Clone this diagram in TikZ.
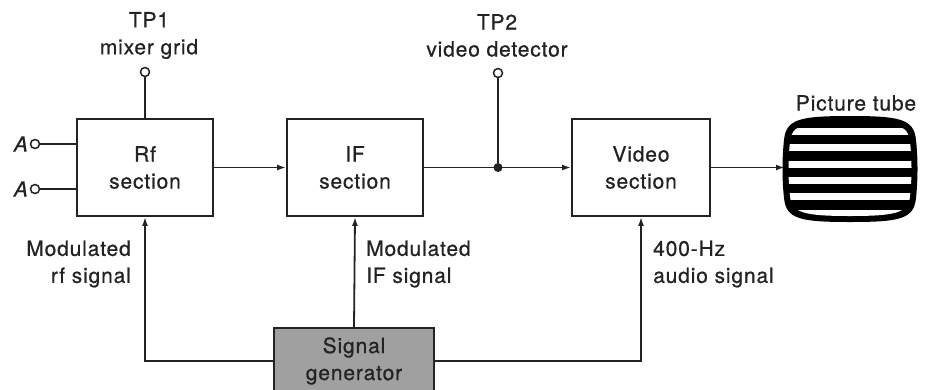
\documentclass[tikz,border=0pt]{standalone}
\usepackage{fontspec}
\setmainfont{TeX Gyre Heros}[LetterSpace=4,FakeBold=0.7]
\usetikzlibrary{arrows.meta}
\definecolor{ink}{RGB}{35,35,35}
\definecolor{gengray}{RGB}{160,160,160}
\begin{document}
\begin{tikzpicture}[x=1pt,y=-1pt,
  font=\fontsize{21}{27}\selectfont,
  every node/.style={text=ink},
  line/.style={draw=ink,line width=1.8pt},
  sig/.style={line,-{Latex[length=9pt,width=6pt]}},
  block/.style={draw=ink,line width=1.8pt,fill=white,inner sep=0pt,
    minimum width=136pt,minimum height=97pt,align=center},
  tpoint/.style={circle,draw=ink,line width=1.5pt,fill=white,inner sep=0pt,minimum size=9pt},
  lbl/.style={inner sep=0pt,align=center}]
\useasboundingbox (0,0) rectangle (928,389);
\clip (0,0) rectangle (928,389);
\fill[white] (0,0) rectangle (928,389);

% signal chain blocks
\node[block] (rf) at (145,167.5) {Rf\\section};
\node[block] (if) at (355,167.5) {IF\\section};
\node[block,minimum width=138pt] (video) at (641,167.5) {Video\\section};
\node[block,fill=gengray,minimum width=160pt,minimum height=66pt] (gen) at (354,361) {Signal\\generator};

% test points
\node[tpoint] (tp1) at (145,72) {};
\node[lbl] (tp1lbl) at (149,35.5) {TP1\\mixer grid};
\node[tpoint] (tp2) at (498,73) {};
\node[lbl] (tp2lbl) at (497,35.5) {TP2\\video detector};
\node[circle,fill=ink,inner sep=0pt,minimum size=9pt] (jn) at (498,167.5) {};

% antenna terminals
\node[tpoint] (a1) at (35,144) {};
\node[tpoint] (a2) at (35,189) {};
\node[lbl,anchor=east] (a1lbl) at (28,144) {\itshape A};
\node[lbl,anchor=east] (a2lbl) at (28,189) {\itshape A};

% picture tube
\coordinate (tube) at (785,167.5);
\fill[black] (850,116) .. controls (900,116) and (914,119) .. (916,140)
  .. controls (918,158) and (918,180) .. (916,198)
  .. controls (914,219) and (900,222) .. (850,222)
  .. controls (800,222) and (786,219) .. (784,198)
  .. controls (782,180) and (782,158) .. (784,140)
  .. controls (786,119) and (800,116) .. (850,116) -- cycle;
\begin{scope}
  \clip (850,123) .. controls (895,123) and (909,124) .. (910,142)
    .. controls (912,160) and (912,178) .. (910,196)
    .. controls (909,213) and (895,216) .. (850,216)
    .. controls (805,216) and (791,213) .. (790,196)
    .. controls (788,178) and (788,160) .. (790,142)
    .. controls (791,124) and (805,123) .. (850,123) -- cycle;
  \foreach \yc in {131.5,147.8,164.1,180.4,196.7,213}
    \fill[white] (780,\yc-3.5) rectangle (920,\yc+3.5);
\end{scope}
\node[lbl] (tubelbl) at (856,103) {Picture tube};

% injection labels
\node[lbl,anchor=east,align=right] (rflbl) at (131,264) {Modulated\\rf signal};
\node[lbl,anchor=west,align=left] (iflbl) at (366,264) {Modulated\\IF signal};
\node[lbl,anchor=west,align=left] (aflbl) at (653,264) {400-Hz\\audio signal};

% connectors
\draw[line] (tp1) -- (rf.north);
\draw[line] (tp2) -- (jn);
\draw[line] (a1) -- (a1 -| rf.west);
\draw[line] (a2) -- (a2 -| rf.west);
\draw[sig] (rf) -- (if);
\draw[sig] (if) -- (video);
\draw[sig] (video.east) -- (tube);
\draw[sig] (gen.west) -| (rf.south);
\draw[sig] (gen.north) -- (if.south);
\draw[sig] (gen.east) -| (video.south);
\end{tikzpicture}
\end{document}
